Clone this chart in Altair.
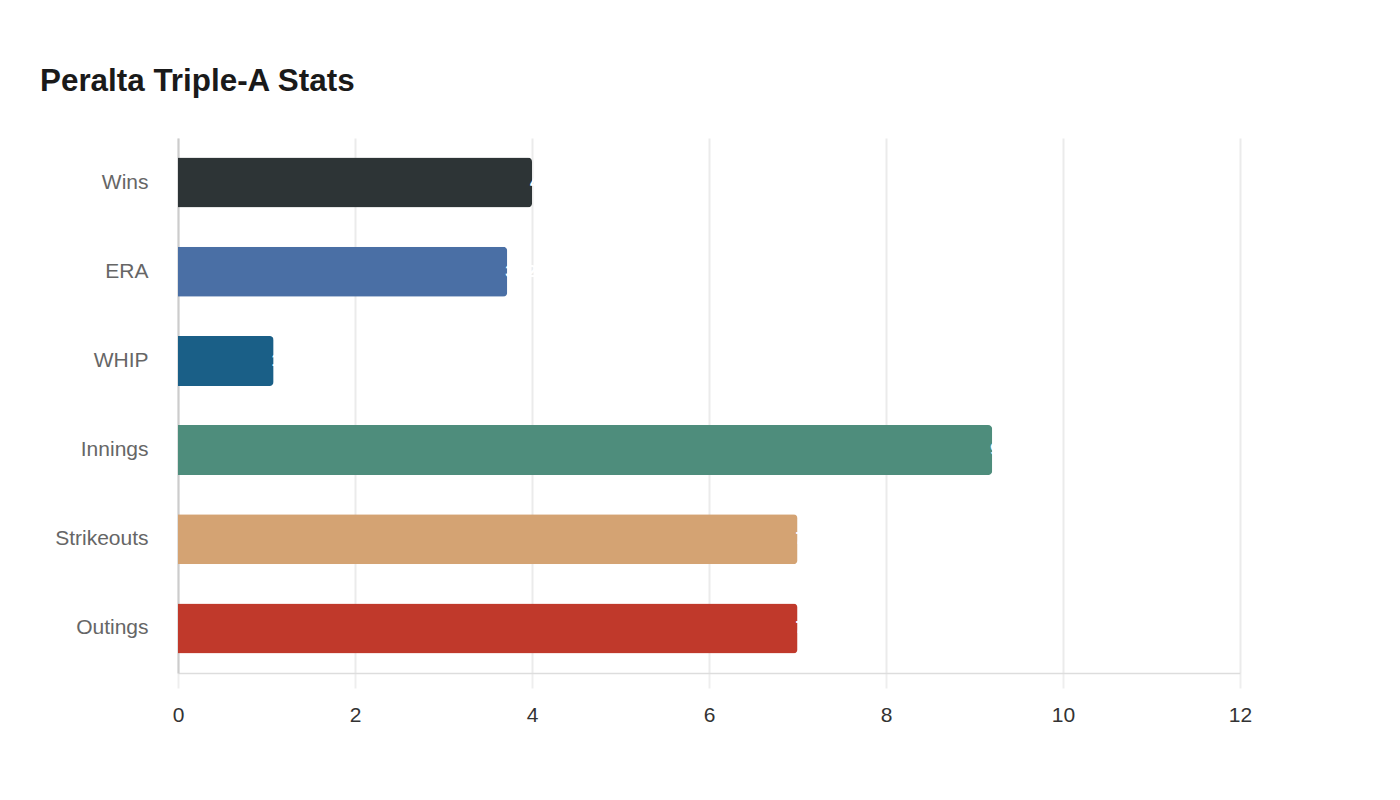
import altair as alt
import pandas as pd

stats = ["Wins", "ERA", "WHIP", "Innings", "Strikeouts", "Outings"]
values = [4, 3.72, 1.08, 9.2, 7, 7]
labels = ["4", "3.72", "1.08", "9.2", "7", "7"]
colors = ["#2d3436", "#4a6fa5", "#1a5f87", "#4e8d7c", "#d4a373", "#c0392b"]

df = pd.DataFrame({"stat": stats, "value": values, "label": labels})

y_enc = alt.Y(
    "stat:N",
    sort=stats,
    title=None,
    scale=alt.Scale(paddingInner=0.44, paddingOuter=0.22),
    axis=alt.Axis(
        labelFontSize=21,
        labelColor="#666666",
        labelFont="Liberation Sans",
        labelPadding=30,
        ticks=False,
        domain=True,
        domainColor="#cccccc",
        domainWidth=2,
        grid=False,
    ),
)

x_enc = alt.X(
    "value:Q",
    title=None,
    scale=alt.Scale(domain=[0, 12]),
    axis=alt.Axis(
        values=[0, 2, 4, 6, 8, 10, 12],
        format="d",
        labelFlush=False,
        labelFontSize=21,
        labelColor="#333333",
        labelFont="Liberation Sans",
        labelPadding=16,
        tickSize=15,
        tickColor="#eeeeee",
        tickWidth=2,
        gridColor="#ebebeb",
        gridWidth=2,
        domainColor="#dddddd",
        domainWidth=1.5,
    ),
)

bars = alt.Chart(df).mark_bar(cornerRadiusEnd=4).encode(
    x=x_enc,
    y=y_enc,
    color=alt.Color("stat:N", scale=alt.Scale(domain=stats, range=colors), legend=None),
)

text = alt.Chart(df).mark_text(
    align="left", baseline="middle", dx=-2, color="white", fontSize=16,
    font="Liberation Sans", fontWeight="bold",
).encode(
    x=alt.X("value:Q"),
    y=alt.Y("stat:N", sort=stats),
    text="label:N",
)

chart = (
    alt.layer(bars, text)
    .properties(
        width=1062,
        height=535,
        background="white",
        autosize=alt.AutoSizeParams(type="none"),
        padding={"left": 170, "top": 130, "right": 130, "bottom": 100},
        title=alt.TitleParams(
            "Peralta Triple-A Stats",
            anchor="start",
            frame="group",
            dx=-138,
            offset=16,
            baseline="alphabetic",
            fontSize=31.4,
            fontWeight="bold",
            font="Liberation Sans",
            color="#1a1a1a",
        ),
    )
    .configure_view(stroke=None)
    .configure_axisY(grid=False)
)

chart.save("out.html", embed_options={"renderer": "svg", "actions": False})
